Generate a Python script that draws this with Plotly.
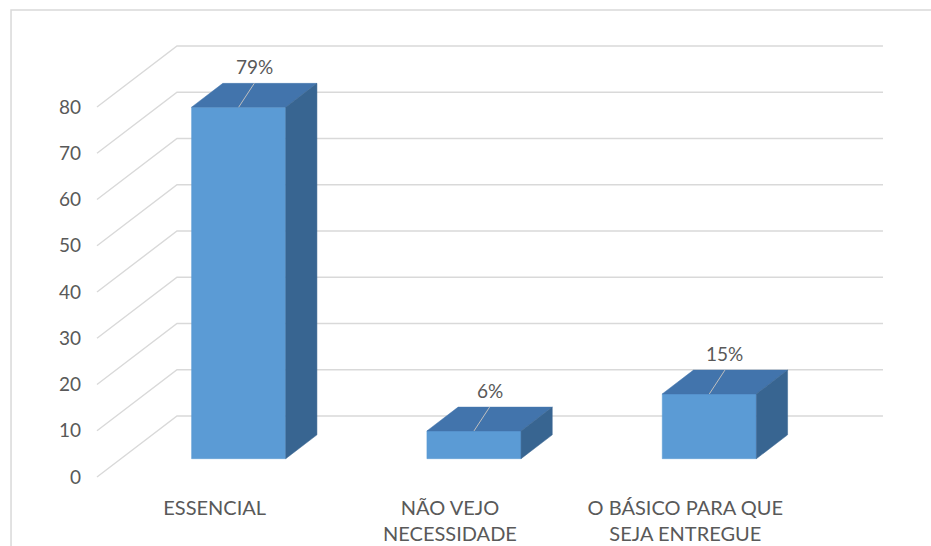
import plotly.graph_objects as go

# Survey answers (counts) and their category labels
categories = ["ESSENCIAL", "NÃO VEJO<br>NECESSIDADE", "O BÁSICO PARA QUE<br>SEJA ENTREGUE"]
counts = [76, 6, 14]
y_ticks = [0, 10, 20, 30, 40, 50, 60, 70, 80]

total = sum(counts)
pct_labels = [f"{round(c / total * 100)}%" for c in counts]

# Oblique 3-D projection parameters (in data units)
DX = 0.34          # horizontal shift from front plane to back wall
DY = 13.2          # vertical shift from front plane to back wall
F_FRONT = 0.30     # depth fraction of the bar front face
F_BACK = 0.69      # depth fraction of the bar back face
BAR_W = 0.40

FRONT = "#5B9BD5"
TOP = "#4274AC"
SIDE = "#386591"
GRID = "#D9D9D9"
TEXT = "#595959"
FONT = "Lato"

fig = go.Figure()

# Gridlines: diagonal on the left wall, then horizontal along the back wall
n = len(categories)
for v in y_ticks:
    fig.add_trace(go.Scatter(
        x=[-0.5, -0.5 + DX, n - 0.5 + DX],
        y=[v, v + DY, v + DY],
        mode="lines", line=dict(color=GRID, width=1.4),
        hoverinfo="skip", showlegend=False))

# 3-D bars: front face, top face, right side face
for i, v in enumerate(counts):
    xl = i - BAR_W / 2
    xr = i + BAR_W / 2
    fx, fy = F_FRONT * DX, F_FRONT * DY
    bx, by = F_BACK * DX, F_BACK * DY
    faces = [
        (FRONT, [xl + fx, xr + fx, xr + fx, xl + fx], [fy, fy, v + fy, v + fy]),
        (TOP, [xl + fx, xr + fx, xr + bx, xl + bx], [v + fy, v + fy, v + by, v + by]),
        (SIDE, [xr + fx, xr + bx, xr + bx, xr + fx], [fy, by, v + by, v + fy]),
    ]
    for color, xs, ys in faces:
        fig.add_trace(go.Scatter(
            x=xs + [xs[0]], y=ys + [ys[0]], mode="lines", fill="toself",
            fillcolor=color, line=dict(color=color, width=0.5),
            hoverinfo="skip", showlegend=False))
    # leader line from the label to the bar top
    mx = (F_FRONT + F_BACK) / 2 * DX
    fig.add_trace(go.Scatter(
        x=[i + fx, i + mx], y=[v + fy, v + by],
        mode="lines", line=dict(color="#BFBFBF", width=1),
        hoverinfo="skip", showlegend=False))
    fig.add_annotation(
        x=i + mx, y=v + by, text=pct_labels[i], showarrow=False,
        yanchor="middle", yshift=17,
        font=dict(family=FONT, size=19, color=TEXT))

# Chart frame
fig.add_shape(type="rect", xref="paper", yref="paper",
              x0=-0.0836, x1=1.05, y0=-0.2, y1=0.9796,
              line=dict(color="#D9D9D9", width=1.5), fillcolor="rgba(0,0,0,0)",
              layer="below")

fig.update_layout(
    width=931, height=546,
    margin=dict(l=82, r=0, t=0, b=56),
    paper_bgcolor="white", plot_bgcolor="white",
    xaxis=dict(range=[-0.5637, 3.044], showgrid=False, zeroline=False,
               showline=False, ticks="", tickmode="array",
               tickvals=list(range(n)), ticktext=categories,
               ticklabelstandoff=4,
               tickfont=dict(family=FONT, size=20, color=TEXT)),
    yaxis=dict(range=[-2.811, 103.135], showgrid=False, zeroline=False,
               showline=False, ticks="", tickmode="array",
               tickvals=y_ticks, ticktext=[str(t) for t in y_ticks],
               tickfont=dict(family=FONT, size=19, color=TEXT)),
)

fig.write_html("out.html")
